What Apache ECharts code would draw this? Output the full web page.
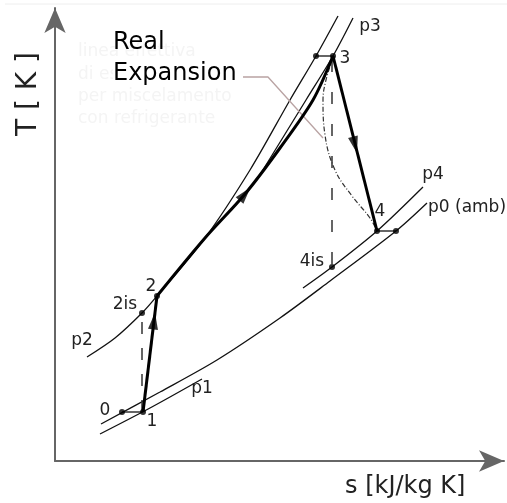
<!DOCTYPE html>
<html><head><meta charset="utf-8">
<script src="https://cdn.jsdelivr.net/npm/echarts@6/dist/echarts.min.js"></script>
<style>html,body{margin:0;padding:0;background:#fff}#c{width:507px;height:503px}</style>
</head><body><div id="c"></div>
<script>
// [s, T] values in arbitrary diagram units
const isobarP0 = [[46,37],[105,69],[162,101],[225,143],[275,180],[341,230],[372,258]];
const isobarP1 = [[45,27],[95,53],[147,82]];
const isobarP2 = [[32,104],[60,123],[87,148],[102,165],[150,223],[195,291],[235,361],[261,405],[283,445]];
const isobarP3 = [[203,283],[251,361],[278,405],[298,443]];
const isobarP4 = [[248,173],[277,194],[322,230],[368,274]];
const compression = [[88,49],[102,165]];
const heating = [[102,165],[150,223],[190,267],[225,313],[258,361],[278,405]];
const expansion = [[278,405],[322,230]];
const realExpansion = [[278,403],[271,381],[268,361],[270,326],[280,291],[297,265],[315,243],[322,230]];
const isoCompression = [[87,49],[87,148]];
const isoExpansion = [[277,401],[277,194]];
const intake = [[67,49],[88,49]];
const burnerLoss = [[261,405],[278,405]];
const exhaustLoss = [[322,230],[341,230]];
const statePoints = [[67,49],[88,49],[87,148],[102,165],[261,405],[278,405],[322,230],[341,230],[277,194]];
const leader = [[188,384],[213,384],[268,323]];
const arrowAt = [[99,140],[190,267],[300,316]];
const arrowDir = [[compression[0],compression[1]],[heating[1],heating[3]],[expansion[0],expansion[1]]];

const arrows = arrowAt.map((p,i)=>{
  const a=arrowDir[i][0], b=arrowDir[i][1];
  const ang = Math.atan2(b[1]-a[1], b[0]-a[0])*180/Math.PI;
  return {value:p, symbolRotate: ang-90};
});

function line(data, style, smooth){
  return {type:'line', data, showSymbol:false, clip:false, silent:true, smooth: smooth||false,
    lineStyle: style, z:3};
}
const thin = {color:'#111', width:1.3};
const bold = {color:'#000', width:3};

const FONT = '"DejaVu Sans", sans-serif';
function txt(text, x, y, size, opts){
  opts = opts || {};
  return {type:'text', x:x, y:y, rotation: opts.rotation||0, z: opts.z||10,
    style:Object.assign({text:text, font: size+'px '+FONT, fill: opts.fill||'#222',
      textAlign: opts.align||'center', textVerticalAlign: 'middle',
      align: opts.align||'center', verticalAlign: 'middle'}, opts.extra||{})};
}

const chart = echarts.init(document.getElementById('c'), null, {renderer:'canvas'});
chart.setOption({
  animation:false,
  backgroundColor:'#fff',
  grid:{left:55, top:8, width:449, height:453},
  xAxis:{type:'value', min:0, max:449, axisLine:{show:true, symbol:['none','arrow'], symbolSize:[16,25], lineStyle:{color:'#666', width:2}},
    axisTick:{show:false}, axisLabel:{show:false}, splitLine:{show:false}},
  yAxis:{type:'value', min:0, max:453, axisLine:{show:true, symbol:['none','arrow'], symbolSize:[16,25], lineStyle:{color:'#666', width:2}},
    axisTick:{show:false}, axisLabel:{show:false}, splitLine:{show:false}},
  graphic:[
    {type:'line', shape:{x1:5,y1:4,x2:507,y2:4}, style:{stroke:'#eeeeee', lineWidth:1}, z:0},
    txt('linea effettiva',78,52,17,{align:'left',fill:'#f4f4f4',z:1}),
    txt('di espansione',78,75,17,{align:'left',fill:'#f4f4f4',z:1}),
    txt('per miscelamento',78,97,17,{align:'left',fill:'#f4f4f4',z:1}),
    txt('con refrigerante',78,119,17,{align:'left',fill:'#f4f4f4',z:1}),
    txt('Real',113,43,24,{align:'left',fill:'#000',z:5}),
    txt('Expansion',113,74,24,{align:'left',fill:'#000',z:5,extra:{backgroundColor:'#fff'}}),
    txt('T [ K ]',29,94,28,{rotation:Math.PI/2}),
    txt('s [kJ/kg K]',345,487,24,{align:'left'}),
    txt('0',105,411,17),
    txt('1',152,422,17),
    txt('p1',202,389,17),
    txt('p2',82,341,17),
    txt('2is',125,305,17),
    txt('2',151,287,17),
    txt('3',345,59,17),
    txt('p3',370,27,17),
    txt('4',380,212,17),
    txt('4is',312,262,17),
    txt('p4',433,175,17),
    txt('p0 (amb)',428,208,17,{align:'left'})
  ],
  series:[
    line(isobarP0, thin, 0.3),
    line(isobarP1, thin, 0.3),
    line(isobarP2, thin, 0.3),
    line(isobarP3, thin, 0.3),
    line(isobarP4, thin, 0.3),
    line(leader, {color:'#b9a3a3', width:1.3}),
    line(isoCompression, {color:'#333', width:1.5, type:[12,14]}),
    line(isoExpansion, {color:'#333', width:1.5, type:[12,20]}),
    line(realExpansion, {color:'#333', width:1.2, type:[5,2,1,2]}, 0.4),
    line(intake, thin),
    line(burnerLoss, thin),
    line(exhaustLoss, thin),
    line(compression, bold),
    line(heating, bold, 0.3),
    line(expansion, bold),
    {type:'scatter', data:statePoints, symbol:'circle', symbolSize:6, itemStyle:{color:'#000'}, silent:true, z:5, clip:false},
    {type:'scatter', data:arrows, symbol:'triangle', symbolSize:[10,17], itemStyle:{color:'#000'}, silent:true, z:6, clip:false}
  ]
});
</script></body></html>
